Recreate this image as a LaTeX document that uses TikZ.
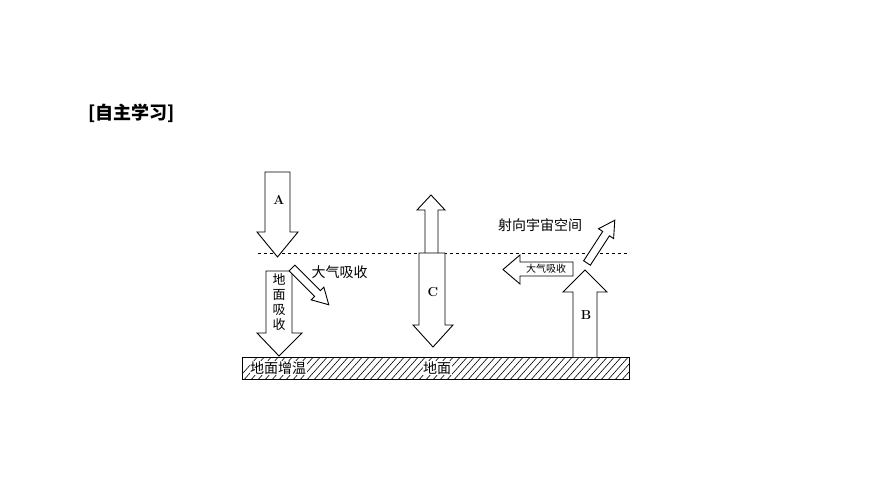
\documentclass[tikz,border=0pt]{standalone}
\usepackage{fontspec}
\newfontfamily\cjk{Noto Sans CJK SC}
\usetikzlibrary{calc}
\begin{document}
\begin{tikzpicture}[x=1pt,y=-1pt,
  arr/.style={draw=black,fill=white,line width=0.9pt,line join=miter},
  lbl/.style={font=\cjk\fontsize{14}{14}\selectfont,inner sep=0.5pt},
  let/.style={font=\bfseries\fontsize{13}{13}\selectfont}]
\useasboundingbox (0,0) rectangle (870,489);
\node[font=\cjk\bfseries\fontsize{18}{18}\selectfont,anchor=west] (title) at (85,113) {[自主学习]};
% ground
\begin{scope}
\clip (242,357) rectangle (629,379);
\foreach \i in {0,7,...,420} {\draw[line width=0.6pt] (235+\i,382) -- (260+\i,354);}
\end{scope}
\draw[line width=0.9pt] (242,357) rectangle (629,379);
\node[lbl,fill=white] (g1) at (278,368) {地面增温};
\node[lbl,fill=white] (g2) at (437,368) {地面};
% dashed line
\draw[dashed,line width=0.6pt] (258,253) -- (627,253);
% A
\draw[arr] (265,172) -- (290,172) -- (290,232) -- (298,232) -- (277.5,257) -- (257,232) -- (265,232) -- cycle;
\node[let] (A) at (279,200) {A};
% ground absorb arrow
\draw[arr] (266,271) -- (292,271) -- (292,333) -- (302,333) -- (279,356) -- (257,333) -- (266,333) -- cycle;
\node[lbl,align=center,font=\cjk\fontsize{13}{15}\selectfont] (gx) at (279,302) {地\\面\\吸\\收};
% diagonal small arrow
\begin{scope}[shift={(292,268)},rotate=-45]
\draw[arr] (0,-4) -- (36,-4) -- (36,-9) -- (52,0) -- (36,9) -- (36,4) -- (0,4) -- cycle;
\end{scope}
\node[lbl,anchor=west] (dq1) at (311,272) {大气吸收};
% C
\draw[arr] (425,253) -- (425,210) -- (417,210) -- (431,195) -- (445,210) -- (438,210) -- (438,253);
\draw[arr] (419,253) -- (445,253) -- (445,325) -- (453,325) -- (433,347) -- (413,325) -- (419,325) -- cycle;
\node[let] (C) at (433,292) {C};
% B
\draw[arr] (573,357) -- (573,292) -- (563,292) -- (585,270) -- (607,292) -- (597,292) -- (597,357);
\node[let] (B) at (586,315) {B};
% left arrow
\draw[arr] (573,262) -- (520,262) -- (520,255) -- (503,269.5) -- (520,284) -- (520,276) -- (573,276) -- cycle;
\node[font=\cjk\fontsize{10}{10}\selectfont] (dq2) at (546,269) {大气吸收};
% to space
\begin{scope}[shift={(587,263)},rotate=57]
\draw[arr] (0,-4) -- (35,-4) -- (35,-9) -- (51,0) -- (35,9) -- (35,4) -- (0,4) -- cycle;
\end{scope}
\node[lbl] (sp) at (540,225) {射向宇宙空间};
\end{tikzpicture}
\end{document}
